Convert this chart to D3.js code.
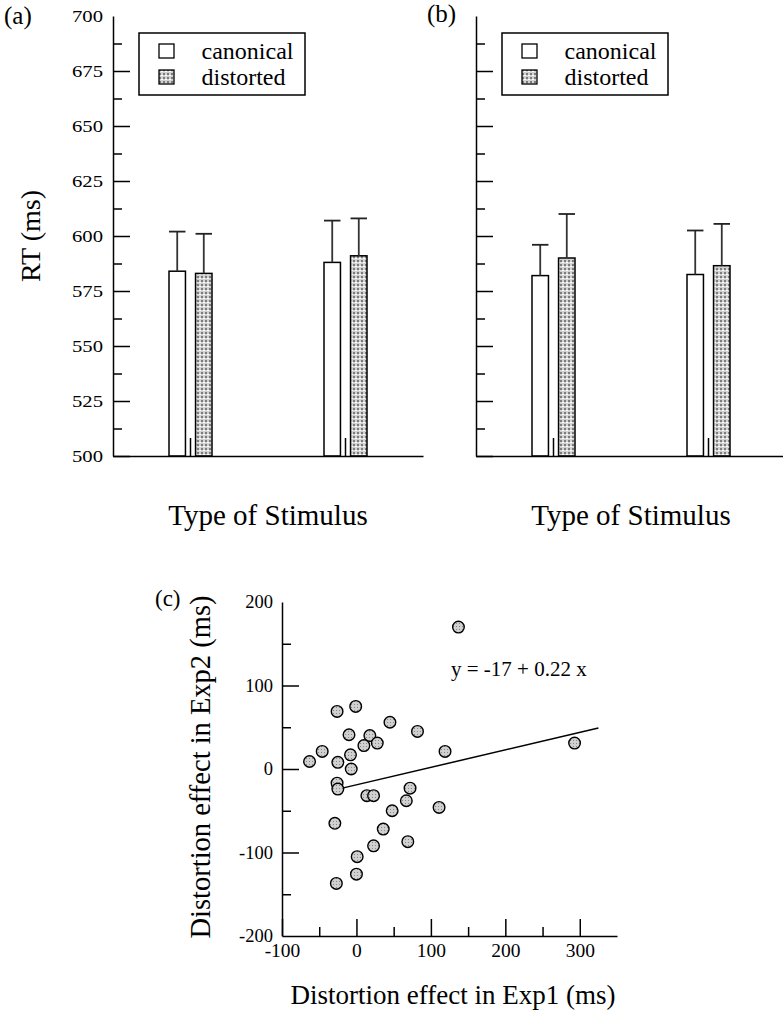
<!DOCTYPE html>
<html>
<head>
<meta charset="utf-8">
<script src="https://cdn.jsdelivr.net/npm/d3@7"></script>
<style>
body { margin: 0; background: #fff; }
</style>
</head>
<body>
<svg id="fig" width="783" height="1010"></svg>
<script>
// bar panels: two stimulus types, two conditions
var stimulusTypes = ["type1", "type2"];
var conditions = ["canonical", "distorted"];

// (a) mean RT and error (ms)
var canonA = [584, 588], canonErrA = [18, 19];
var distA = [583, 591], distErrA = [18, 17];
// (b)
var canonB = [582, 582.5], canonErrB = [14, 20];
var distB = [590, 586.5], distErrB = [20, 19];

var rtMajor = [500, 525, 550, 575, 600, 625, 650, 675, 700];
var rtMinor = [512.5, 537.5, 562.5, 587.5, 612.5, 637.5, 662.5, 687.5];

// (c) distortion effects per subject
var effect1 = [137, -26, -1, 45, 82, -10, 18, 28, 10, 293, 119, -46, -63, -8, -25, -7, -26, -25, 14, 23, 72, 67, 48, 111, -29, 36, 69, 23, 1, 0, -27];
var effect2 = [170, 69, 75, 56, 45, 41, 40, 31, 28, 31, 21, 21, 9, 17, 8, 0, -17, -24, -32, -32, -23, -38, -50, -46, -65, -72, -87, -92, -105, -126, -137];
var fitLine = [[-29, -25], [325, 49]];
var fitLabel = "y = -17 + 0.22 x";
var effMajorX = [-100, 0, 100, 200, 300], effMinorX = [-50, 50, 150, 250];
var effMajorY = [-200, -100, 0, 100, 200], effMinorY = [-150, -50, 50, 150];

var serif = '"Liberation Serif", "DejaVu Serif", "Times New Roman", Times, serif';

var svg = d3.select('#fig');
var defs = svg.append('defs');

var pat = defs.append('pattern').attr('id', 'stip').attr('width', 4).attr('height', 4)
  .attr('patternUnits', 'userSpaceOnUse');
pat.append('rect').attr('width', 4).attr('height', 4).attr('fill', '#d2d2d2');
pat.append('rect').attr('width', 2).attr('height', 2).attr('fill', '#7c7c7c');
pat.append('rect').attr('x', 2).attr('y', 2).attr('width', 2).attr('height', 1).attr('fill', '#fff');

var dots = defs.append('pattern').attr('id', 'dots').attr('width', 3).attr('height', 3)
  .attr('patternUnits', 'userSpaceOnUse');
dots.append('rect').attr('width', 3).attr('height', 3).attr('fill', '#d0d0d0');
dots.append('rect').attr('width', 1).attr('height', 1).attr('fill', '#888');

var pw = 310, ph = 440;
var y = d3.scaleLinear().domain([500, 700]).range([ph, 0]);
var x0 = d3.scaleBand().domain(stimulusTypes).range([0, pw]);
var x1 = d3.scaleBand().domain(conditions).range([-21.5, 21.5]).paddingInner(0.38);

function label(sel, size) {
  return sel.style('font-family', serif).style('font-size', size + 'px').attr('fill', '#000');
}

function styleAxis(g, size) {
  g.attr('font-family', null).attr('font-size', null);
  g.select('.domain').attr('stroke-width', 1.5);
  g.selectAll('.tick line').attr('stroke-width', 1.5);
  label(g.selectAll('text'), size);
}

function barPanel(left, canon, canonErr, dist, distErr, showLabels) {
  var g = svg.append('g').attr('transform', 'translate(' + left + ',16)');

  var rows = [];
  stimulusTypes.forEach(function(s, i) {
    rows.push({s: s, c: 'canonical', m: canon[i], e: canonErr[i]});
    rows.push({s: s, c: 'distorted', m: dist[i], e: distErr[i]});
  });
  function bx(d) { return x0(d.s) + x0.bandwidth() / 2 + x1(d.c); }

  g.selectAll('.bar').data(rows).enter().append('rect')
    .attr('class', 'bar')
    .attr('x', bx)
    .attr('y', function(d) { return y(d.m); })
    .attr('width', x1.bandwidth())
    .attr('height', function(d) { return ph - y(d.m); })
    .attr('fill', function(d) { return d.c == 'canonical' ? '#fff' : 'url(#stip)'; })
    .attr('stroke', '#000').attr('stroke-width', 1.5);

  g.selectAll('.err').data(rows).enter().append('line')
    .attr('class', 'err')
    .attr('x1', function(d) { return bx(d) + x1.bandwidth() / 2; })
    .attr('x2', function(d) { return bx(d) + x1.bandwidth() / 2; })
    .attr('y1', function(d) { return y(d.m); })
    .attr('y2', function(d) { return y(d.m + d.e); })
    .attr('stroke', '#333').attr('stroke-width', 1.8);
  g.selectAll('.cap').data(rows).enter().append('line')
    .attr('class', 'cap')
    .attr('x1', bx)
    .attr('x2', function(d) { return bx(d) + x1.bandwidth(); })
    .attr('y1', function(d) { return y(d.m + d.e); })
    .attr('y2', function(d) { return y(d.m + d.e); })
    .attr('stroke', '#222').attr('stroke-width', 1.8);

  var ya = g.append('g').call(d3.axisLeft(y).tickValues(rtMajor).tickSize(-17).tickSizeOuter(0)
    .tickPadding(10).tickFormat(showLabels ? d3.format('d') : ''));
  styleAxis(ya, 16.5);
  ya.selectAll('.tick').filter(function(d) { return d == 700; }).select('line').remove();
  if (showLabels) ya.selectAll('text').attr('textLength', 31).attr('lengthAdjust', 'spacingAndGlyphs');
  var ym = g.append('g').call(d3.axisLeft(y).tickValues(rtMinor).tickSize(-9).tickFormat(''));
  ym.select('.domain').remove();
  styleAxis(ym, 10);

  var xa = g.append('g').attr('transform', 'translate(0,' + ph + ')')
    .call(d3.axisBottom(x0).tickSize(-18).tickSizeOuter(0).tickFormat(''));
  styleAxis(xa, 10);

  label(g.append('text').attr('x', pw / 2).attr('y', 509).attr('text-anchor', 'middle'), 29)
    .text('Type of Stimulus');

  var lg = g.append('g').attr('transform', 'translate(26,17)');
  lg.append('rect').attr('width', 166).attr('height', 62)
    .attr('fill', '#fff').attr('stroke', '#000').attr('stroke-width', 1.5);
  conditions.forEach(function(c, i) {
    lg.append('rect').attr('x', 20).attr('y', 11 + i * 26).attr('width', 15).attr('height', 14)
      .attr('fill', c == 'canonical' ? '#fff' : 'url(#stip)').attr('stroke', '#000').attr('stroke-width', 1.3);
    label(lg.append('text').attr('x', 62.5).attr('y', 26 + i * 25.5), 24).text(c);
  });
  return g;
}

barPanel(113, canonA, canonErrA, distA, distErrA, true);
barPanel(476, canonB, canonErrB, distB, distErrB, false);

label(svg.append('text').attr('x', 4).attr('y', 24), 25).text('(a)');
label(svg.append('text').attr('x', 427).attr('y', 22), 25).text('(b)');
label(svg.append('text').attr('transform', 'translate(40,236) rotate(-90)').attr('text-anchor', 'middle'), 28)
  .text('RT (ms)');

// (c) scatter
var cw = 335, chh = 334;
var xs = d3.scaleLinear().domain([-100, 350]).range([0, cw]);
var ys = d3.scaleLinear().domain([-200, 200]).range([chh, 0]);
var gc = svg.append('g').attr('transform', 'translate(282,602)');

var xa = gc.append('g').attr('transform', 'translate(0,' + chh + ')')
  .call(d3.axisBottom(xs).tickValues(effMajorX).tickSize(-17).tickSizeOuter(0).tickPadding(7).tickFormat(d3.format('d')));
styleAxis(xa, 19.5);
var xm = gc.append('g').attr('transform', 'translate(0,' + chh + ')')
  .call(d3.axisBottom(xs).tickValues(effMinorX).tickSize(-9).tickFormat(''));
xm.select('.domain').remove();
styleAxis(xm, 10);

var yc = gc.append('g').call(d3.axisLeft(ys).tickValues(effMajorY).tickSize(-17).tickSizeOuter(0).tickPadding(9).tickFormat(d3.format('d')));
styleAxis(yc, 18.5);
yc.selectAll('.tick').filter(function(d) { return d == 200 || d == -200; }).select('line').remove();
var ycm = gc.append('g').call(d3.axisLeft(ys).tickValues(effMinorY).tickSize(-9).tickFormat(''));
ycm.select('.domain').remove();
styleAxis(ycm, 10);

// the axis uses a unicode minus; the original prints a plain hyphen
xa.selectAll('text').text(function(d) { return String(d); });
yc.selectAll('text').text(function(d) { return String(d); });

gc.append('path').datum(fitLine)
  .attr('d', d3.line().x(function(d) { return xs(d[0]); }).y(function(d) { return ys(d[1]); }))
  .attr('fill', 'none').attr('stroke', '#000').attr('stroke-width', 1.5);

gc.selectAll('circle').data(effect1).enter().append('circle')
  .attr('cx', function(d) { return xs(d); })
  .attr('cy', function(d, i) { return ys(effect2[i]); })
  .attr('r', 5.8)
  .attr('fill', 'url(#dots)').attr('stroke', '#000').attr('stroke-width', 1.4);

label(gc.append('text').attr('x', 169).attr('y', 74), 21).text(fitLabel);

label(svg.append('text').attr('x', 155).attr('y', 606), 23).text('(c)');
label(svg.append('text').attr('x', 453).attr('y', 1004).attr('text-anchor', 'middle'), 27)
  .text('Distortion effect in Exp1 (ms)');
label(svg.append('text').attr('transform', 'translate(210,767) rotate(-90)').attr('text-anchor', 'middle'), 28.5)
  .text('Distortion effect in Exp2 (ms)');
</script>
</body>
</html>
